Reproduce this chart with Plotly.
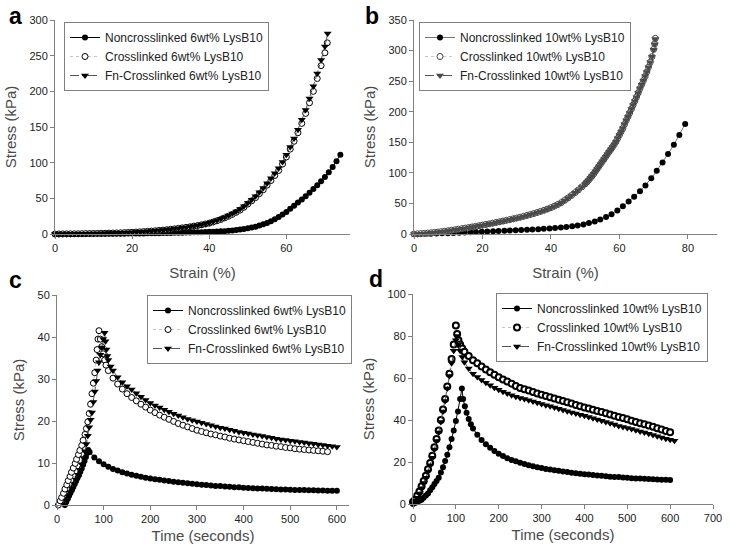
import plotly.graph_objects as go

# ---------------- Panel a : 6 wt% compression ----------------
a_non_strain = [0,1,2,3,4,5,6,7,8,9,10,11,12,13,14,15,16,17,18,19,20,
                21,22,23,24,25,26,27,28,29,30,31,32,33,34,35,36,37,38,39,40,
                41,42,43,44,45,46,47,48,49,50,51,52,53,54,55,56,57,58,59,60,
                61,62,63,64,65,66,67,68,69,70,71,72,73,74]
a_non_stress = [0,0,0,0,0,0.1,0.1,0.1,0.1,0.2,0.2,0.2,0.3,0.3,0.3,0.4,0.4,0.5,0.5,0.6,0.6,
                0.7,0.8,0.8,0.9,1.0,1.1,1.2,1.3,1.4,1.5,1.6,1.7,1.9,2.0,2.2,2.3,2.5,2.6,2.8,3.0,
                3.2,3.4,3.7,4.0,4.5,5.0,5.6,6.3,7.1,8.0,9.0,10.3,11.8,13.5,15.5,18,20.7,23.7,27.2,31,
                35.5,39.5,44,48.5,53,58,63,68.5,74,80,86.5,94,102,111]

a_cross_strain = [0,1,2,3,4,5,6,7,8,9,10,11,12,13,14,15,16,17,18,19,20,
                  21,22,23,24,25,26,27,28,29,30,31,32,33,34,35,36,37,38,39,40,
                  41,42,43,44,45,46,47,48,49,50,51,52,53,54,55,56,57,58,59,60,
                  61,62,63,64,65,66,67,68,69,70,70.6]
a_cross_stress = [0,0.05,0.1,0.15,0.2,0.25,0.3,0.4,0.5,0.6,0.7,
                  0.8,0.9,1.05,1.2,1.35,1.5,1.7,1.9,2.15,2.4,
                  2.7,3.0,3.35,3.7,4.1,4.5,5.0,5.5,6.0,6.6,
                  7.2,7.9,8.6,9.3,10.1,11.0,11.9,12.9,14.0,15.2,
                  16.8,18.5,20.4,22.5,24.9,27.5,30.4,33.5,37.5,42,
                  46.5,51,56.5,62,68.5,75,82,89,98,108,
                  119,130,142,155,169,184,200,218,236,254,268]

a_fn_strain = [0,1,2,3,4,5,6,7,8,9,10,11,12,13,14,15,16,17,18,19,20,
               21,22,23,24,25,26,27,28,29,30,31,32,33,34,35,36,37,38,39,40,
               41,42,43,44,45,46,47,48,49,50,51,52,53,54,55,56,57,58,59,60,
               61,62,63,64,65,66,67,68,69,70,70.7]
a_fn_stress = [0,0.05,0.1,0.15,0.2,0.3,0.35,0.4,0.5,0.6,0.7,
               0.85,0.95,1.1,1.25,1.4,1.6,1.8,2.0,2.25,2.5,
               2.8,3.1,3.45,3.8,4.2,4.65,5.1,5.6,6.2,6.8,
               7.4,8.1,8.8,9.6,10.4,11.3,12.3,13.3,14.5,15.8,
               17.4,19.3,21.3,23.5,26,28.7,31.7,35,39,43.5,
               48,53,58.5,64.5,71,78,85,92,101,111,
               122,134,146,160,174,190,207,225,244,263,281]

# ---------------- Panel b : 10 wt% compression ----------------
b_non_strain = [0,1.6,3.3,4.9,6.6,8.2,9.9,11.5,13.2,14.8,16.5,18.1,19.8,21.4,23.1,24.7,
                26.4,28.0,29.7,31.3,33.0,34.6,36.3,37.9,39.6,41.2,42.9,44.5,46.2,47.8,
                49.5,51.1,52.8,54.4,56.1,57.7,59.4,61.0,62.7,64.3,66.0,67.6,69.3,70.9,
                72.6,74.2,75.9,77.5,79.2]
b_non_stress = [0,0.1,0.3,0.5,0.8,1.1,1.4,1.8,2.2,2.6,3.0,3.4,3.8,4.2,4.6,5.0,
                5.4,5.8,6.2,6.6,7.0,7.4,7.9,8.4,9.0,9.7,10.5,11.4,12.5,13.8,
                15.5,17.8,20.5,23.8,27.8,32.5,38.5,45.5,53,61,70,79.5,91,103.5,
                117,131,146,162,180]

b_dense_strain = [0,1,2,3,4,5,6,7,8,9,10,11,12,13,14,15,16,17,18,19,20,
                  21,22,23,24,25,26,27,28,29,30,31,32,33,34,35,36,37,38,39,40,
                  41,42,43,44,45,46,47,48,49,50,
                  50.5,51,51.5,52,52.5,53,53.5,54,54.5,55,55.5,56,56.5,57,57.5,58,58.5,59,59.5,
                  60,60.5,61,61.5,62,62.5,63,63.5,64,64.5,65,65.5,66,66.5,67,67.5,68,68.5,69,69.5,70,
                  70.3,70.5]
b_cross_stress = [0,0.3,0.6,1.0,1.5,2.0,2.6,3.2,3.9,4.6,5.4,
                  6.2,7.0,7.9,8.8,9.7,10.6,11.6,12.6,13.6,14.6,
                  15.6,16.7,17.8,18.9,20.0,21.2,22.4,23.6,24.9,26.2,
                  27.5,28.9,30.4,31.9,33.5,35.2,37.0,38.9,40.9,43.0,
                  45.5,48.2,51.2,55,59,63,67.5,72,77,82,
                  85,88,91.5,95,98.5,102.5,106.5,110.5,114.5,118.5,122.5,126.5,130.5,134.5,138.5,142.5,146.5,151,156.5,
                  162,167.5,173,179.5,186,192,198,204.5,211,217.5,224,231,238,244.5,251,258,265,273,281,290,302,
                  311,320]
b_fn_stress = [0,0.2,0.5,0.9,1.4,1.9,2.5,3.1,3.8,4.5,5.3,
               6.1,6.9,7.8,8.7,9.6,10.5,11.5,12.5,13.5,14.5,
               15.5,16.6,17.7,18.8,19.9,21.1,22.3,23.5,24.8,26.1,
               27.4,28.8,30.3,31.8,33.4,35.1,36.9,38.8,40.8,42.9,
               45.4,48.1,51.1,54.9,58.9,62.9,67.4,71.9,76.9,81.9,
               84.9,87.9,91.4,94.9,98.4,102.4,106.4,110.4,114.4,118.4,122.4,126.4,130.4,134.4,138.4,142.4,146.4,150.9,156.4,
               161.8,167.3,172.8,179.3,185.8,191.8,197.8,204.3,210.8,217.3,223.8,230.8,237.8,244.3,250.8,257.8,264.8,272.8,280.8,289.8,301.5,
               310.5,319]

# ---------------- Panel c : 6 wt% stress relaxation ----------------
c_non_time = [17,20,23,26,29,32,35,38,41,44,47,50,53,56,59,62,65,67,
              70,80,90,100,110,120,130,140,150,160,170,180,190,200,210,220,230,240,250,
              260,270,280,290,300,310,320,330,340,350,360,370,380,390,400,410,420,430,
              440,450,460,470,480,490,500,510,520,530,540,550,560,570,580,590,600]
c_non_stress = [0,0.8,1.5,2.2,2.9,3.6,4.3,5.0,5.7,6.4,7.1,7.9,8.7,9.6,10.5,11.4,12.4,13.1,
                12.6,11.3,10.4,9.7,9.1,8.6,8.2,7.8,7.5,7.2,6.95,6.7,6.5,6.3,6.15,6.0,5.85,5.7,5.55,
                5.4,5.3,5.15,5.05,4.95,4.85,4.75,4.65,4.55,4.5,4.4,4.35,4.25,4.2,4.1,4.05,4.0,3.95,
                3.9,3.85,3.8,3.75,3.7,3.7,3.65,3.6,3.6,3.55,3.5,3.5,3.45,3.45,3.4,3.4,3.4]

c_cross_time = [3,7,10,14,17,21,24,28,31,35,39,42,46,49,53,56,60,63,66,69,72,75,78,81,84,86,88,90,
                93,96,99,102,105,110,
                120,130,140,150,160,170,180,190,200,210,220,230,240,250,260,270,280,290,300,
                310,320,330,340,350,360,370,380,390,400,410,420,430,440,450,460,470,480,490,
                500,510,520,530,540,550,560,570,580]
c_cross_stress = [0,1,1.8,2.8,3.8,4.8,5.8,6.8,7.8,8.8,9.9,10.9,12,13,14.2,15.4,16.8,18.2,19.8,21.8,24,26.5,29,31.5,34.5,37,39.5,41.5,
                  39.5,37.7,36,34.5,33.3,32,
                  30.2,28.8,27.6,26.5,25.6,24.8,24,23.3,22.6,22.0,21.4,20.9,20.4,19.9,19.4,19.0,18.6,18.2,17.8,
                  17.5,17.2,16.9,16.7,16.4,16.2,15.9,15.7,15.5,15.3,15.1,14.9,14.7,14.5,14.3,14.2,14.0,13.9,13.7,
                  13.6,13.4,13.3,13.2,13.1,13.0,12.9,12.8,12.7]

c_fn_time = [17,21,25,29,33,37,41,45,49,53,57,60,63,66,69,72,75,78,81,84,87,90,93,96,99,102,
             104,106,108,110,115,120,
             130,140,150,160,170,180,190,200,210,220,230,240,250,260,270,280,290,300,
             310,320,330,340,350,360,370,380,390,400,410,420,430,440,450,460,470,480,490,
             500,510,520,530,540,550,560,570,580,590,600]
c_fn_stress = [0,1,2,3,4,5,6,7.2,8.4,9.7,11.2,12.8,14.5,16.5,18.5,20.3,22,24.5,27,29.5,32,34,35.8,37.5,39.5,41,
               39,37,35.5,34.5,33,32,
               30.4,29.2,28.3,27.5,26.6,25.8,25.0,24.3,23.7,23.2,22.7,22.2,21.7,21.3,20.9,20.5,20.2,19.9,
               19.6,19.3,19.0,18.7,18.4,18.2,17.9,17.7,17.4,17.2,17.0,16.8,16.6,16.4,16.2,16.0,15.8,15.6,15.5,
               15.3,15.2,15.0,14.9,14.7,14.6,14.4,14.3,14.1,14.0,13.8]

# ---------------- Panel d : 10 wt% stress relaxation ----------------
d_non_time = [0,5,10,15,20,25,30,35,40,45,50,55,60,65,70,75,80,85,90,95,100,105,110,114,
              117,121,125,130,135,140,150,160,170,180,190,200,210,220,230,240,250,
              260,270,280,290,300,310,320,330,340,350,360,370,380,390,400,410,420,430,
              440,450,460,470,480,490,500,510,520,530,540,550,560,570,580,590,600]
d_non_stress = [0,0.5,1,1.5,2,3,4,5,6.5,8,9.5,11,12.5,15,17.5,20.5,23.5,27,31,35,39.5,44,50,55,
                50,46.5,43.5,40.5,38,36,33,30.5,28.5,26.8,25.2,23.9,22.8,21.8,21.0,20.3,19.7,
                19.1,18.5,18.0,17.5,17.1,16.7,16.4,16.1,15.8,15.5,15.2,14.9,14.6,14.4,14.2,14.0,13.8,13.6,
                13.4,13.2,13.0,12.9,12.8,12.6,12.5,12.3,12.2,12.1,12.0,11.9,11.8,11.7,11.6,11.5,11.4]

d_cross_time = [0,5,10,15,20,25,30,35,40,45,50,55,60,65,70,75,80,85,90,95,100,
                103,106,110,115,120,130,140,150,160,170,180,190,200,210,220,230,240,250,
                260,270,280,290,300,310,320,330,340,350,360,370,380,390,400,410,420,430,
                440,450,460,470,480,490,500,510,520,530,540,550,560,570,580,590,600]
d_cross_stress = [1,2,4,6,8.5,11,13.5,16.5,19.5,23,27,31,35,40,45,50,56,62,69,76,85,
                  81,78,76,74,72.5,70.5,68.5,67,65.5,64,62.7,61.5,60.3,59.3,58.3,57.3,56.2,55.2,
                  54.6,54.0,53.3,52.6,52.0,51.4,50.8,50.2,49.6,49.0,48.4,47.8,47.2,46.6,46.0,45.5,44.9,44.3,
                  43.8,43.2,42.6,42.0,41.4,40.9,40.3,39.7,39.1,38.5,38.0,37.4,36.8,36.1,35.5,34.8,34.2]

d_fn_time = [0,5,10,15,20,25,30,35,40,45,50,55,60,65,70,75,80,85,90,95,100,103,
             106,110,115,120,130,140,150,160,170,180,190,200,210,220,230,240,250,
             260,270,280,290,300,310,320,330,340,350,360,370,380,390,400,410,420,430,
             440,450,460,470,480,490,500,510,520,530,540,550,560,570,580,590,600,610]
d_fn_stress = [0.5,1.5,3,5,7.5,10,12.5,15.5,18.5,22,26,30,34,39,44,49,55,61,67,73,78,80,
               76,73,70,67.5,64.5,62,60.5,59,57.7,56.5,55.4,54.4,53.5,52.6,51.8,51.1,50.5,
               50.0,49.4,48.8,48.2,47.6,47.0,46.5,46.0,45.4,44.8,44.2,43.6,43.1,42.5,42.0,41.4,40.8,40.2,
               39.6,39.0,38.4,37.8,37.2,36.7,36.2,35.7,35.1,34.5,34.0,33.5,32.9,32.3,31.7,31.1,30.6,30.1]

names_6 = ["Noncrosslinked 6wt% LysB10", "Crosslinked 6wt% LysB10", "Fn-Crosslinked 6wt% LysB10"]
names_10 = ["Noncrosslinked 10wt% LysB10", "Crosslinked 10wt% LysB10", "Fn-Crosslinked 10wt% LysB10"]

FONT = "Liberation Sans, Arial, sans-serif"
fig = go.Figure()


def add_set(xs, ys, names, xa, ya, leg, cross_col="black", fn_col="black", non_line="black",
            cross_lw=1.0, msize=6):
    (x1, x2, x3), (y1, y2, y3) = xs, ys
    fig.add_trace(go.Scatter(x=x1, y=y1, name=names[0], xaxis=xa, yaxis=ya, legend=leg,
                             mode="lines+markers", cliponaxis=False,
                             line=dict(color=non_line, width=1),
                             marker=dict(symbol="circle", size=msize, color="black")))
    fig.add_trace(go.Scatter(x=x2, y=y2, name=names[1], xaxis=xa, yaxis=ya, legend=leg,
                             mode="lines+markers", cliponaxis=False,
                             line=dict(color="#c8c8c8", width=1, dash="dot"),
                             marker=dict(symbol="circle", size=msize, color="white",
                                         line=dict(color=cross_col, width=cross_lw))))
    fig.add_trace(go.Scatter(x=x3, y=y3, name=names[2], xaxis=xa, yaxis=ya, legend=leg,
                             mode="lines+markers", cliponaxis=False,
                             line=dict(color="#555555", width=1, dash="dashdot"),
                             marker=dict(symbol="triangle-down", size=msize + 1, color=fn_col)))


add_set((a_non_strain, a_cross_strain, a_fn_strain), (a_non_stress, a_cross_stress, a_fn_stress),
        names_6, "x", "y", "legend")
add_set((b_non_strain, b_dense_strain, b_dense_strain), (b_non_stress, b_cross_stress, b_fn_stress),
        names_10, "x2", "y2", "legend2", cross_col="#444444", fn_col="#4a4a4a", non_line="#777777")
add_set((c_non_time, c_cross_time, c_fn_time), (c_non_stress, c_cross_stress, c_fn_stress),
        names_6, "x3", "y3", "legend3")
add_set((d_non_time, d_cross_time, d_fn_time), (d_non_stress, d_cross_stress, d_fn_stress),
        names_10, "x4", "y4", "legend4", cross_lw=2.0)

W, H = 729, 558


def px(x0, x1):
    return [x0 / W, x1 / W]


def py(ybot, ytop):
    return [1 - ybot / H, 1 - ytop / H]


axis_common = dict(showline=True, linecolor="#808080", linewidth=1, ticks="outside", ticklen=4,
                   tickcolor="#808080", showgrid=False, zeroline=False, automargin=False,
                   tickfont=dict(family=FONT, size=11, color="#222222"))
title_font = dict(family=FONT, size=15, color="#4a4a4a")

legend_common = dict(xanchor="left", yanchor="top", bgcolor="white", bordercolor="#808080",
                     borderwidth=1, font=dict(family=FONT, size=12, color="#222222"),
                     tracegroupgap=0, itemclick=False)

fig.update_layout(
    width=W, height=H, margin=dict(l=0, r=0, t=0, b=0),
    paper_bgcolor="white", plot_bgcolor="white",
    font=dict(family=FONT),
    xaxis=dict(domain=px(55, 350), anchor="y", range=[0, 76.5], dtick=20,
               title=dict(text="Strain (%)", font=title_font, standoff=14), **axis_common),
    yaxis=dict(domain=py(234, 20), anchor="x", range=[0, 300], dtick=50,
               title=dict(text="Stress (kPa)", font=title_font, standoff=9), **axis_common),
    xaxis2=dict(domain=px(414, 717), anchor="y2", range=[0, 88.5], dtick=20,
                title=dict(text="Strain (%)", font=title_font, standoff=14), **axis_common),
    yaxis2=dict(domain=py(234, 20), anchor="x2", range=[0, 350], dtick=50,
                title=dict(text="Stress (kPa)", font=title_font, standoff=9), **axis_common),
    xaxis3=dict(domain=px(57, 349), anchor="y3", range=[0, 626], dtick=100,
                title=dict(text="Time (seconds)", font=title_font, standoff=6), **axis_common),
    yaxis3=dict(domain=py(505, 295), anchor="x3", range=[0, 50], dtick=10,
                title=dict(text="Stress (kPa)", font=title_font, standoff=9), **axis_common),
    xaxis4=dict(domain=px(413, 713), anchor="y4", range=[0, 700], dtick=100,
                title=dict(text="Time (seconds)", font=title_font, standoff=6), **axis_common),
    yaxis4=dict(domain=py(504, 294), anchor="x4", range=[0, 100], dtick=20,
                title=dict(text="Stress (kPa)", font=title_font, standoff=9), **axis_common),
    legend=dict(x=64 / W, y=1 - 22 / H, **legend_common),
    legend2=dict(x=419 / W, y=1 - 22 / H, **legend_common),
    legend3=dict(x=147 / W, y=1 - 295 / H, **legend_common),
    legend4=dict(x=496 / W, y=1 - 293 / H, **legend_common),
    showlegend=True,
)

for txt, xp, yp in [("a", 15, 16), ("b", 372, 16), ("c", 16, 280), ("d", 376, 279)]:
    fig.add_annotation(text="<b>%s</b>" % txt, x=xp / W, y=1 - yp / H, xref="paper", yref="paper",
                       showarrow=False, xanchor="center", yanchor="middle",
                       font=dict(family=FONT, size=23, color="black"))

fig.write_html("out.html", config={"displayModeBar": False},
               post_script="document.body.style.margin='0px';")
